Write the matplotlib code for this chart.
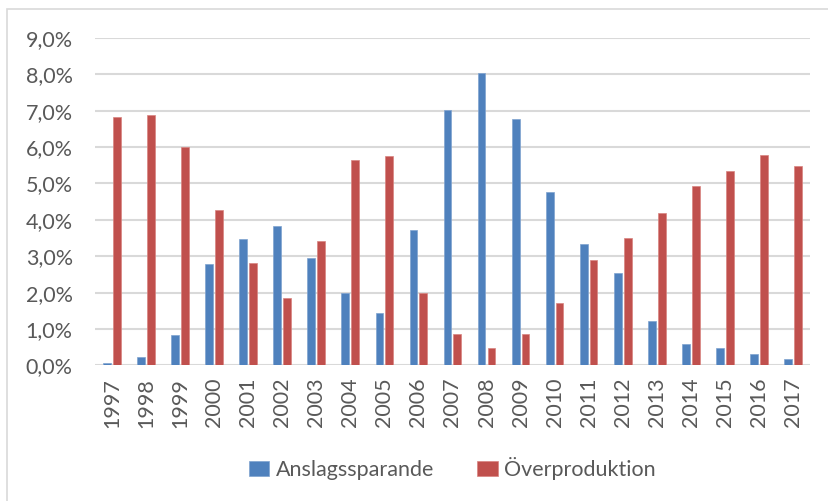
import numpy as np
import matplotlib
matplotlib.use("Agg")
import matplotlib.pyplot as plt
from matplotlib.patches import Rectangle

years = [str(y) for y in range(1997, 2018)]
anslag = [0.07, 0.23, 0.83, 2.79, 3.47, 3.83, 2.94, 1.98, 1.45, 3.73, 7.01,
          8.04, 6.78, 4.76, 3.34, 2.53, 1.23, 0.58, 0.49, 0.31, 0.17]
overprod = [6.82, 6.88, 6.01, 4.28, 2.81, 1.85, 3.42, 5.64, 5.75, 1.99, 0.86,
            0.49, 0.85, 1.72, 2.91, 3.51, 4.18, 4.94, 5.33, 5.78, 5.48]

plt.rcParams['font.family'] = ['Lato', 'DejaVu Sans']
grey = '#595959'

fig = plt.figure(figsize=(8.29, 5.01), dpi=100)
ax = fig.add_axes([0.1146, 0.2708, 0.8624, 0.6533])

x = np.arange(len(years))
w = 0.23
ax.bar(x - w / 2 - 0.03, anslag, w, color='#4F81BD', label='Anslagssparande',
       edgecolor='#7FA3D0', linewidth=0.5, zorder=3)
ax.bar(x + w / 2 + 0.03, overprod, w, color='#C0504D', label='Överproduktion',
       edgecolor='#D88480', linewidth=0.5, zorder=3)

ax.set_xlim(-0.5, len(years) - 0.5)
ax.set_ylim(0, 9)
ax.set_yticks(np.arange(0, 10))
ax.set_yticklabels([f'{v},0%' for v in range(10)])
ax.set_xticks(x)
ax.set_xticklabels(years, rotation=90)
ax.tick_params(axis='both', length=0, labelsize=15.5, colors=grey)
ax.tick_params(axis='x', pad=9)
ax.tick_params(axis='y', pad=16)
ax.yaxis.grid(True, color='#D9D9D9', linewidth=1.5, zorder=0)
for s in ax.spines.values():
    s.set_visible(False)

ax.legend(loc='upper center', bbox_to_anchor=(0.5, -0.222), ncol=2, frameon=False,
          fontsize=15.5, labelcolor=grey, handlelength=0.95, handleheight=0.68,
          handletextpad=0.3, columnspacing=2.0)

fig.patches.append(Rectangle((7 / 829, -0.1), 1.0, 1 - 9 / 501 + 0.1,
                             transform=fig.transFigure, fill=False,
                             edgecolor='#D9D9D9', linewidth=1.2))

fig.savefig('out.png', dpi=100)
